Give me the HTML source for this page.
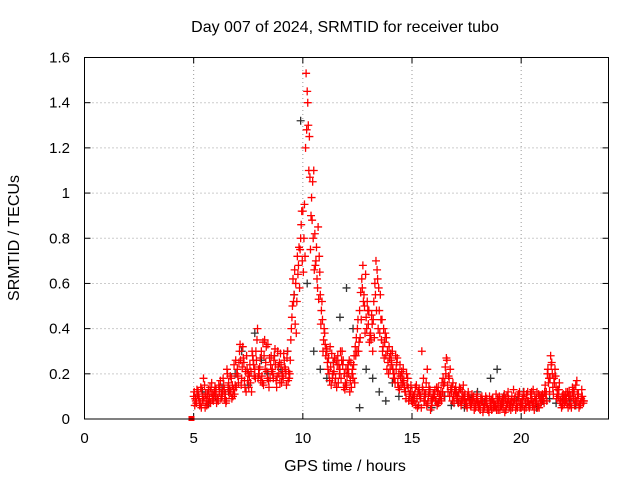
<!DOCTYPE html>
<html><head><meta charset="utf-8"><style>
body{margin:0;background:#fff;}
svg{display:block;font-family:"Liberation Sans",sans-serif;}
</style></head><body>
<svg id="chart" width="640" height="480">
<text x="345" y="32" font-size="16" text-anchor="middle">Day 007 of 2024, SRMTID for receiver tubo</text>
<text x="345" y="471" font-size="16" text-anchor="middle">GPS time / hours</text>
<text x="19" y="238" font-size="16" text-anchor="middle" transform="rotate(-90 19 238)">SRMTID / TECUs</text>
<g id="grid"></g>
<g id="ticks"></g>
<g id="marks"></g>
<rect x="84.5" y="57.5" width="524" height="361.5" fill="none" stroke="#000" stroke-width="1"/>
</svg>
<script>
const xTicks=[0,5,10,15,20];
const yTicks=[0,0.2,0.4,0.6,0.8,1,1.2,1.4,1.6];
const yTickLabels=["0","0.2","0.4","0.6","0.8","1","1.2","1.4","1.6"];
const redAStart=5.0, redBStart=5.05, redCStart=5.025, redDStart=5.075, greyStart=5.1, redStep=0.1, greyStep=0.3;
const redA=[0.10,0.08,0.12,0.07,0.09,0.15,0.06,0.10,0.12,0.08,
0.11,0.09,0.14,0.10,0.13,0.08,0.16,0.12,0.10,0.15,
0.22,0.30,0.18,0.25,0.12,0.20,0.16,0.28,0.22,0.35,
0.20,0.30,0.15,0.25,0.33,0.18,0.22,0.28,0.14,0.20,
0.24,0.18,0.22,0.30,0.20,0.45,0.55,0.38,0.68,0.80,
0.92,0.72,1.45,1.25,0.98,1.10,0.70,0.85,0.55,0.44,
0.38,0.30,0.20,0.15,0.25,0.18,0.28,0.22,0.30,0.20,
0.15,0.20,0.25,0.18,0.32,0.40,0.48,0.62,0.55,0.45,
0.42,0.38,0.30,0.60,0.66,0.48,0.35,0.40,0.28,0.25,
0.22,0.30,0.18,0.25,0.20,0.15,0.22,0.12,0.18,0.10,
0.12,0.08,0.15,0.06,0.10,0.13,0.08,0.22,0.12,0.06,
0.10,0.08,0.14,0.10,0.12,0.16,0.26,0.18,0.12,0.10,
0.14,0.10,0.08,0.12,0.09,0.07,0.10,0.06,0.08,0.05,
0.08,0.06,0.10,0.05,0.07,0.04,0.06,0.09,0.05,0.07,
0.10,0.06,0.08,0.04,0.12,0.07,0.05,0.09,0.06,0.08,
0.05,0.10,0.07,0.12,0.06,0.08,0.04,0.09,0.11,0.07,
0.10,0.15,0.20,0.12,0.25,0.18,0.14,0.10,0.08,0.06,
0.10,0.07,0.12,0.05,0.09,0.15,0.08,0.06,0.10];
const redB=[0.06,0.13,0.09,0.05,0.18,0.11,0.07,0.14,0.09,0.12,
0.07,0.15,0.09,0.18,0.11,0.20,0.13,0.09,0.24,0.14,
0.16,0.26,0.32,0.14,0.22,0.19,0.12,0.24,0.30,0.18,
0.27,0.16,0.35,0.21,0.14,0.28,0.18,0.24,0.30,0.16,
0.19,0.26,0.15,0.21,0.35,0.62,0.42,0.72,0.58,0.92,
0.80,1.53,1.30,0.75,1.05,0.82,0.62,0.72,0.48,0.35,
0.28,0.22,0.32,0.18,0.27,0.14,0.24,0.18,0.26,0.16,
0.22,0.12,0.20,0.28,0.36,0.30,0.56,0.68,0.38,0.52,
0.34,0.46,0.52,0.70,0.40,0.55,0.30,0.34,0.22,0.32,
0.26,0.18,0.28,0.16,0.24,0.18,0.14,0.20,0.08,0.15,
0.09,0.14,0.05,0.11,0.30,0.08,0.16,0.10,0.04,0.09,
0.13,0.06,0.11,0.08,0.15,0.20,0.12,0.22,0.08,0.13,
0.09,0.12,0.06,0.15,0.07,0.10,0.08,0.11,0.04,0.09,
0.05,0.09,0.03,0.08,0.05,0.10,0.04,0.07,0.11,0.04,
0.06,0.09,0.03,0.10,0.05,0.08,0.13,0.04,0.10,0.05,
0.09,0.04,0.11,0.06,0.09,0.13,0.07,0.05,0.10,0.08,
0.07,0.12,0.16,0.28,0.14,0.22,0.11,0.16,0.05,0.09,
0.12,0.05,0.10,0.14,0.06,0.17,0.05,0.09,0.07];
const redC=[0.12,0.07,0.10,0.14,0.08,0.05,0.11,0.09,0.16,0.10,
0.13,0.08,0.17,0.12,0.09,0.22,0.11,0.18,0.13,0.26,
0.19,0.33,0.23,0.17,0.28,0.14,0.21,0.26,0.18,0.40,
0.23,0.19,0.28,0.32,0.17,0.24,0.20,0.31,0.19,0.25,
0.16,0.29,0.20,0.17,0.26,0.50,0.66,0.52,0.76,0.86,
0.65,1.20,1.40,1.07,0.88,0.66,0.76,0.53,0.42,0.30,
0.33,0.25,0.17,0.29,0.21,0.26,0.16,0.30,0.24,0.13,
0.19,0.26,0.14,0.24,0.28,0.44,0.36,0.58,0.50,0.40,
0.48,0.35,0.44,0.55,0.62,0.38,0.44,0.27,0.36,0.20,
0.29,0.22,0.16,0.27,0.13,0.21,0.17,0.09,0.14,0.12,
0.07,0.11,0.09,0.13,0.05,0.18,0.11,0.07,0.13,0.08,
0.11,0.14,0.07,0.12,0.18,0.23,0.15,0.10,0.14,0.07,
0.12,0.07,0.13,0.09,0.11,0.05,0.09,0.07,0.10,0.06,
0.07,0.04,0.08,0.06,0.09,0.03,0.08,0.05,0.06,0.09,
0.04,0.07,0.11,0.06,0.09,0.04,0.07,0.10,0.05,0.12,
0.07,0.12,0.05,0.08,0.11,0.06,0.10,0.12,0.05,0.10,
0.09,0.11,0.22,0.18,0.20,0.16,0.09,0.13,0.07,0.11,
0.08,0.12,0.06,0.10,0.13,0.08,0.11,0.07,0.08];
const redD=[0.09,0.11,0.06,0.13,0.10,0.08,0.13,0.07,0.11,0.14,
0.09,0.12,0.11,0.15,0.07,0.14,0.19,0.15,0.11,0.20,
0.25,0.15,0.27,0.21,0.17,0.24,0.30,0.19,0.26,0.22,
0.17,0.34,0.22,0.18,0.27,0.21,0.26,0.17,0.23,0.29,
0.21,0.23,0.27,0.18,0.40,0.52,0.60,0.64,0.75,0.70,
0.95,1.28,1.10,0.90,0.80,0.68,0.58,0.65,0.52,0.40,
0.31,0.27,0.23,0.20,0.16,0.24,0.20,0.26,0.14,0.22,
0.24,0.17,0.22,0.16,0.30,0.34,0.44,0.52,0.64,0.48,
0.37,0.42,0.36,0.48,0.58,0.44,0.32,0.38,0.30,0.27,
0.24,0.20,0.22,0.14,0.19,0.16,0.12,0.15,0.11,0.08,
0.10,0.06,0.12,0.09,0.14,0.11,0.06,0.14,0.09,0.11,
0.08,0.12,0.09,0.16,0.10,0.27,0.19,0.13,0.16,0.11,
0.10,0.14,0.08,0.10,0.06,0.12,0.06,0.09,0.07,0.11,
0.06,0.08,0.05,0.10,0.04,0.07,0.09,0.06,0.04,0.08,
0.08,0.05,0.09,0.07,0.06,0.10,0.08,0.06,0.11,0.07,
0.06,0.09,0.08,0.05,0.12,0.07,0.08,0.06,0.09,0.11,
0.12,0.08,0.18,0.24,0.11,0.19,0.13,0.08,0.10,0.07,
0.09,0.10,0.07,0.12,0.09,0.11,0.06,0.13,0.08];
const grey=[0.09,0.12,0.07,0.10,0.14,0.12,0.20,0.30,0.15,0.38,0.26,0.20,0.28,0.22,0.30,0.55,1.32,0.60,0.30,0.22,0.18,0.25,0.45,0.58,0.40,0.05,0.22,0.18,0.12,0.08,0.16,0.10,0.12,0.08,0.06,0.10,0.05,0.07,0.10,0.06,0.08,0.05,0.09,0.12,0.07,0.18,0.22,0.10,0.06,0.08,0.12,0.06,0.05,0.08,0.09,0.07,0.10,0.08,0.06];
const squarePoint=[4.9,0];

const NS="http://www.w3.org/2000/svg";
const X0=84.5,X1=608.5,Y0=419,Y1=57.5,XMAX=24,YMAX=1.6;
function sx(v){return X0+(X1-X0)*v/XMAX;}
function sy(v){return Y0-(Y0-Y1)*v/YMAX;}
function mk(tag,attrs,parent){const e=document.createElementNS(NS,tag);for(const k in attrs)e.setAttribute(k,attrs[k]);parent.appendChild(e);return e;}
const grid=document.getElementById('grid'),ticks=document.getElementById('ticks'),marks=document.getElementById('marks');
xTicks.forEach(t=>{
  const x=sx(t);
  if(t>0){const g=mk('line',{x1:x,x2:x,y1:Y0,y2:Y1,stroke:'#999','stroke-dasharray':'1,3'},grid);
  
  }
  mk('line',{x1:x,x2:x,y1:Y0,y2:Y0-6,stroke:'#000'},ticks);
  mk('line',{x1:x,x2:x,y1:Y1,y2:Y1+6,stroke:'#000'},ticks);
  const l=mk('text',{x:x,y:443,'font-size':15,'text-anchor':'middle'},ticks);l.textContent=t;
  
  
});
yTicks.forEach((t,i)=>{
  const y=sy(t);
  if(t>0&&t<YMAX){const g=mk('line',{x1:X0,x2:X1,y1:y,y2:y,stroke:'#999','stroke-dasharray':'1,3'},grid);
  
  }
  mk('line',{x1:X0,x2:X0+6,y1:y,y2:y,stroke:'#000'},ticks);
  mk('line',{x1:X1,x2:X1-6,y1:y,y2:y,stroke:'#000'},ticks);
  const l=mk('text',{x:70,y:y+5,'font-size':15,'text-anchor':'end'},ticks);l.textContent=yTickLabels[i];
  
  
});
function plus(t,v,color,name){
  const x=sx(t),y=sy(v);
  const p=mk('path',{d:`M${x-4},${y}h8M${x},${y-4}v8`,stroke:color,'stroke-width':1.3,fill:'none'},marks);
  
  
}
grey.forEach((v,i)=>plus(greyStart+i*greyStep,v,'#333','grey-point'));
redA.forEach((v,i)=>plus(redAStart+i*redStep,v,'#f00','red-point'));
redB.forEach((v,i)=>plus(redBStart+i*redStep,v,'#f00','red-point'));
redC.forEach((v,i)=>plus(redCStart+i*redStep,v,'#f00','red-point'));
redD.forEach((v,i)=>plus(redDStart+i*redStep,v,'#f00','red-point'));
const sq=mk('rect',{x:sx(squarePoint[0])-3,y:sy(squarePoint[1])-3,width:6,height:5,fill:'#f00'},marks);


</script>
</body></html>
